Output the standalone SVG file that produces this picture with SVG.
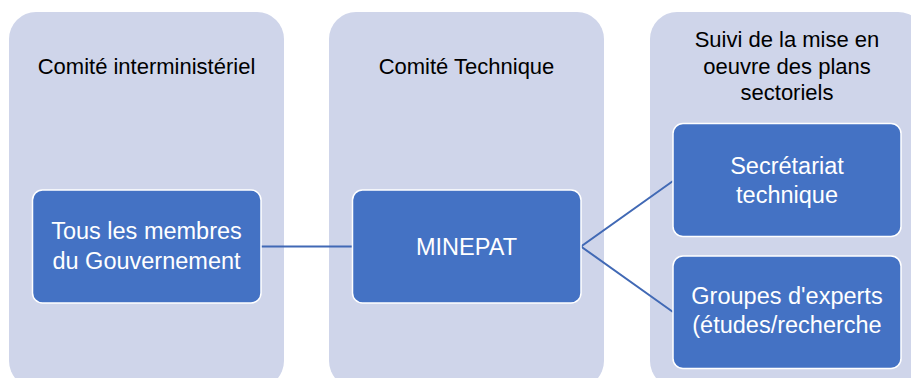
<svg xmlns="http://www.w3.org/2000/svg" width="911" height="378" viewBox="0 0 911 378">
  <style>
    .panel { fill: #CFD5EA; }
    .box { fill: #4472C4; stroke: #FFFFFF; stroke-width: 1.5; }
    .title { font-family: "Liberation Sans", Arial, sans-serif; font-size: 22px; fill: #000000; text-anchor: middle; }
    .label { font-family: "Liberation Sans", Arial, sans-serif; font-size: 23.5px; fill: #FFFFFF; text-anchor: middle; }
    .conn { stroke: #4169B5; stroke-width: 2; fill: none; }
  </style>
  <rect x="0" y="0" width="911" height="378" fill="#FFFFFF"/>

  <g id="panel-interministeriel">
    <rect class="panel" x="9" y="12" width="275" height="376" rx="27" ry="27"/>
    <text class="title" x="146.5" y="74">Comité interministériel</text>
  </g>
  <g id="panel-technique">
    <rect class="panel" x="329" y="12" width="275" height="376" rx="27" ry="27"/>
    <text class="title" x="466.5" y="74">Comité Technique</text>
  </g>
  <g id="panel-suivi">
    <rect class="panel" x="650" y="12" width="275" height="376" rx="27" ry="27"/>
    <text class="title" x="787" y="47">Suivi de la mise en</text>
    <text class="title" x="787" y="73.5">oeuvre des plans</text>
    <text class="title" x="787" y="100">sectoriels</text>
  </g>

  <g id="connectors">
    <line class="conn" x1="261" y1="246.5" x2="352" y2="246.5"/>
    <polyline class="conn" points="673,181 581,246.5 673,312"/>
  </g>

  <g id="node-gouvernement">
    <rect class="box" x="32.5" y="190" width="228.5" height="113" rx="10" ry="10"/>
    <text class="label" x="146.5" y="239">Tous les membres</text>
    <text class="label" x="146.5" y="269">du Gouvernement</text>
  </g>
  <g id="node-minepat">
    <rect class="box" x="352.5" y="190" width="228.5" height="113" rx="10" ry="10"/>
    <text class="label" x="466.5" y="254.5">MINEPAT</text>
  </g>
  <g id="node-secretariat">
    <rect class="box" x="673" y="123.5" width="228" height="113" rx="10" ry="10"/>
    <text class="label" x="787" y="174">Secrétariat</text>
    <text class="label" x="787" y="202.5">technique</text>
  </g>
  <g id="node-experts">
    <rect class="box" x="673" y="256" width="228" height="112.5" rx="10" ry="10"/>
    <text class="label" x="787" y="304">Groupes d'experts</text>
    <text class="label" x="787" y="333">(études/recherche</text>
  </g>
</svg>
